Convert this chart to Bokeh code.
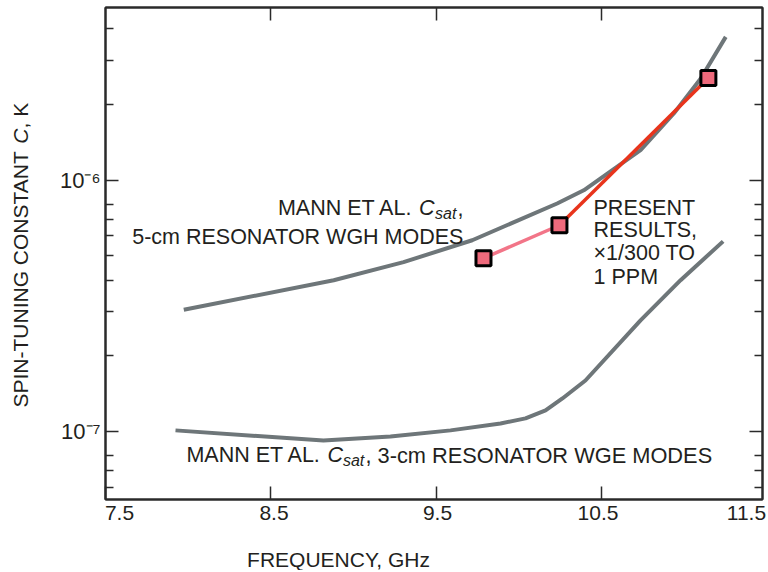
import math
from bokeh.plotting import figure
from bokeh.layouts import row, column
from bokeh.models import (Range1d, FixedTicker, LinearAxis, LogAxis,
                          CustomJSTickFormatter, Label)
from bokeh.embed import file_html
from bokeh.resources import INLINE

# ---------------- data ----------------
wgh_freq = [7.973, 8.879, 9.301, 9.716, 10.229, 10.39, 10.733, 10.934, 11.097, 11.248]
wgh_c = [3.05e-7, 4.0e-7, 4.72e-7, 5.77e-7, 8.08e-7, 9.12e-7, 1.317e-6, 1.844e-6, 2.54e-6, 3.72e-6]

wge_freq = [7.923, 8.817, 9.222, 9.585, 9.887, 10.038, 10.159, 10.261, 10.40, 10.733, 10.975, 11.232]
wge_c = [1.01e-7, 9.2e-8, 9.55e-8, 1.01e-7, 1.076e-7, 1.127e-7, 1.213e-7, 1.353e-7, 1.595e-7, 2.77e-7, 4.0e-7, 5.71e-7]

present_freq = [9.784, 10.243, 11.143]
present_c = [4.89e-7, 6.62e-7, 2.55e-6]

x_ticks = [7.5, 8.5, 9.5, 10.5, 11.5]
x_tick_labels = ["7.5", "8.5", "9.5", "10.5", "11.5"]
y_major = [1e-7, 1e-6]
y_minor = [6e-8, 7e-8, 8e-8, 2e-7, 3e-7, 4e-7, 5e-7, 6e-7, 7e-7, 8e-7, 2e-6, 3e-6, 4e-6]

X_START, X_END = 7.5, 11.47
Y_START, Y_END = 5.36e-8, 4.87e-6

FONT = "Liberation Sans"
TXT = "#231f20"
FRAME = "#2a2a2a"
GRAY = "#6e7679"
FS = "21.5px"

# layout sizes (pixels)
YT_W = 34          # strip holding the rotated y title
FRAME_L, FRAME_W, FRAME_R = 71, 657, 6
MAIN_H, XT_H = 501, 69

x_rng = Range1d(X_START, X_END)
y_rng = Range1d(Y_START, Y_END)

p = figure(width=FRAME_L + FRAME_W + FRAME_R, height=MAIN_H, x_range=x_rng,
           y_range=y_rng, y_axis_type="log",
           output_backend="svg", toolbar_location=None,
           min_border_left=FRAME_L, min_border_right=FRAME_R, min_border_top=7,
           min_border_bottom=2)
p.title.visible = False
p.grid.visible = False
p.outline_line_color = FRAME
p.outline_line_width = 2
p.background_fill_color = "white"
p.border_fill_color = "white"

def style_axis(ax, major_in, minor_in):
    ax.major_tick_in = major_in
    ax.major_tick_out = 0
    ax.minor_tick_in = minor_in
    ax.minor_tick_out = 0
    ax.axis_line_color = FRAME
    ax.axis_line_width = 2
    ax.major_tick_line_color = FRAME
    ax.minor_tick_line_color = FRAME
    ax.major_tick_line_width = 1.5
    ax.minor_tick_line_width = 1.5

def hide_labels(ax):
    ax.major_label_text_font_size = "1px"
    ax.major_label_text_color = None
    ax.major_label_standoff = 0

xa = p.xaxis[0]
xa.ticker = FixedTicker(ticks=x_ticks, minor_ticks=[])
style_axis(xa, 13, 0)
hide_labels(xa)

ta = LinearAxis(ticker=FixedTicker(ticks=x_ticks[1:4], minor_ticks=[]))
style_axis(ta, 13, 0)
hide_labels(ta)
p.add_layout(ta, "above")

ya = p.yaxis[0]
ya.ticker = FixedTicker(ticks=y_major, minor_ticks=y_minor)
style_axis(ya, 13, 8)
ya.formatter = CustomJSTickFormatter(
    code="return tick < 3e-7 ? '10\u207b\u2077' : '10\u207b\u2076';")
ya.major_label_text_font = FONT
ya.major_label_text_font_size = "22px"
ya.major_label_text_color = TXT
ya.major_label_standoff = 5

ra = LogAxis(ticker=FixedTicker(ticks=y_major, minor_ticks=y_minor))
style_axis(ra, 13, 8)
hide_labels(ra)
p.add_layout(ra, "right")

# ---------------- curves ----------------
p.line(wgh_freq, wgh_c, line_color=GRAY, line_width=4)
p.line(wge_freq, wge_c, line_color=GRAY, line_width=4)
p.line(present_freq[:2], present_c[:2], line_color="#f27588", line_width=3.5)
p.line(present_freq[1:], present_c[1:], line_color="#e8341c", line_width=3.5)
p.scatter(present_freq, present_c, marker="square", size=15,
          fill_color="#ef6a7c", line_color="black", line_width=3)

# ---------------- text helpers ----------------
def lbl(fig, x, y, text, dx=0, dy=0, size=FS, style="normal", align="left",
        baseline="alphabetic", angle=0.0):
    fig.add_layout(Label(x=x, y=y, text=text, x_offset=dx, y_offset=dy,
                         text_font=FONT, text_font_size=size, text_font_style=style,
                         text_color=TXT, text_align=align, text_baseline=baseline,
                         angle=angle))

def strip(width, height, xr, yr, y_type="linear", **borders):
    f = figure(width=width, height=height, x_range=xr, y_range=yr,
               y_axis_type=y_type, x_axis_location=None, y_axis_location=None,
               output_backend="svg", toolbar_location=None,
               min_border_left=borders.get("left", 0), min_border_right=borders.get("right", 0),
               min_border_top=borders.get("top", 0), min_border_bottom=borders.get("bottom", 0))
    f.title.visible = False
    f.grid.visible = False
    f.outline_line_color = None
    f.background_fill_color = "white"
    f.border_fill_color = "white"
    return f

# annotations inside the plot
ux, uy = 9.663, 1e-6
lbl(p, ux, uy, ",", dx=0, dy=-28, align="right")
lbl(p, ux, uy, "sat", dx=-7, dy=-33, size="16px", style="italic", align="right")
lbl(p, ux, uy, "C", dx=-29, dy=-28, style="italic", align="right")
lbl(p, ux, uy, "MANN ET AL.", dx=-50.5, dy=-28, align="right")
lbl(p, ux, uy, "5-cm RESONATOR WGH MODES", dx=0, dy=-57, align="right")

lx, ly = 7.989, 1e-7
lbl(p, lx, ly, "MANN ET AL.", dx=0, dy=-24)
lbl(p, lx, ly, "C", dx=141, dy=-24, style="italic")
lbl(p, lx, ly, "sat", dx=156.5, dy=-29, size="16px", style="italic")
lbl(p, lx, ly, ", 3-cm RESONATOR WGE MODES", dx=179, dy=-24, size="21.8px")

px_, py_ = 10.449, 1e-6
for t, d in zip(["PRESENT", "RESULTS,", "\u00d71/300 TO", "1 PPM"], [-28, -50, -73, -97]):
    lbl(p, px_, py_, t, dy=d)

# ---------------- y title strip ----------------
yfig = strip(YT_W, MAIN_H, Range1d(0, YT_W), y_rng, y_type="log", top=7, bottom=2)
ang = math.pi / 2
YX = 20
lbl(yfig, YX, Y_START, "SPIN-TUNING CONSTANT", dy=92, size="21px", angle=ang, baseline="middle")
lbl(yfig, YX, Y_START, "C", dy=92 + 263.7, size="21px", style="italic", angle=ang, baseline="middle")
lbl(yfig, YX, Y_START, ", K", dy=92 + 279, size="21px", angle=ang, baseline="middle")

# ---------------- x tick labels + x title strip ----------------
full_w = YT_W + FRAME_L + FRAME_W + FRAME_R
k = (X_END - X_START) / FRAME_W
xs_rng = Range1d(X_START - (YT_W + FRAME_L) * k, X_START + (full_w - YT_W - FRAME_L) * k)
xfig = strip(full_w, XT_H, xs_rng, Range1d(0, XT_H))
for xv, t, d in zip(x_ticks, x_tick_labels, [14, 3, 1, -4, -21]):
    lbl(xfig, xv, XT_H, t, dx=d, dy=-4, size="21px", align="center", baseline="top")
lbl(xfig, 8.908, 0, "FREQUENCY, GHz", dy=11, size="21px", align="center")

layout = column(row(yfig, p), xfig)
open("out.html", "w").write(file_html(layout, INLINE))
